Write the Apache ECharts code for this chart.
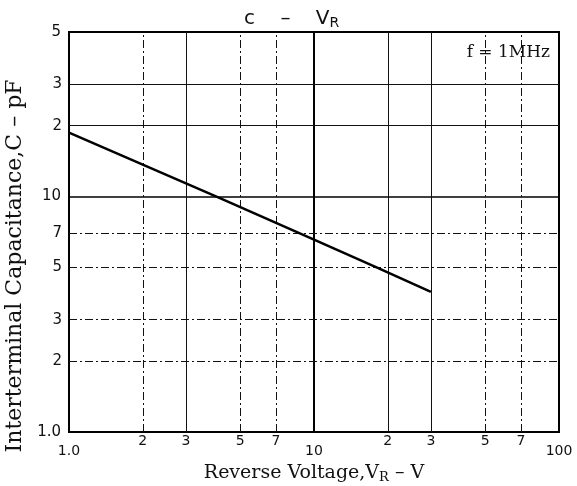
<!DOCTYPE html>
<html><head><meta charset="utf-8">
<script src="https://cdn.jsdelivr.net/npm/echarts@6/dist/echarts.min.js"></script>
<style>html,body{margin:0;padding:0;background:#fff}#c{width:577px;height:486px}</style>
</head><body><div id="c"></div>
<script>
// Data
const voltage = [1, 4, 10, 18, 30];
const capacitance = [18.7, 10, 6.56, 5, 3.94];
const xMajorTicks = [1, 10, 100];
const xMajorLabels = ['1.0', '10', '100'];
const yMajorTicks = [1, 10, 50];
const yMajorLabels = ['1.0', '10', '5'];
const xMinorTicks = [2, 3, 5, 7, 20, 30, 50, 70];
const xMinorLabels = ['2', '3', '5', '7', '2', '3', '5', '7'];
const yMinorTicks = [2, 3, 5, 7, 20, 30];
const yMinorLabels = ['2', '3', '5', '7', '2', '3'];

const SERIF = '"DejaVu Serif", "Liberation Serif", serif';
const SANS = '"DejaVu Sans", "Liberation Sans", sans-serif';
const dashDot = [8, 3, 2, 3];
function xLineType(v) { return (v === 3 || v === 20 || v === 30) ? 'solid' : dashDot; }
function yLineType(v) { return (v === 20 || v === 30) ? 'solid' : dashDot; }
function lookup(ticks, labels, v) {
  for (let i = 0; i < ticks.length; i++) {
    if (Math.abs(Math.log10(v) - Math.log10(ticks[i])) < 1e-6) return labels[i];
  }
  return '';
}

const markData = [];
xMinorTicks.forEach((v, i) => {
  markData.push({
    xAxis: v,
    lineStyle: { color: '#111', width: 1, type: xLineType(v) },
    label: { show: true, position: 'start', formatter: xMinorLabels[i], distance: 2,
      color: '#111', fontFamily: SANS, fontSize: 14 }
  });
});
yMinorTicks.forEach((v, i) => {
  markData.push({
    yAxis: v,
    lineStyle: { color: '#111', width: 1, type: yLineType(v) },
    label: { show: true, position: 'start', formatter: yMinorLabels[i], distance: 7,
      color: '#111', fontFamily: SANS, fontSize: 15 }
  });
});

const chart = echarts.init(document.getElementById('c'), null, { renderer: 'canvas' });
chart.setOption({
  animation: false,
  backgroundColor: '#fff',
  title: [{
    text: '{a|c}{a|    –    }{a|V}{s|R}',
    left: 239, top: 3,
    textStyle: { fontWeight: 'normal', rich: {
      a: { fontFamily: SANS, fontSize: 20, color: '#111', fontWeight: 'normal' },
      s: { fontFamily: SANS, fontSize: 14, color: '#111', fontWeight: 'normal', padding: [8, 0, 0, 0] }
    } }
  }, {
    text: 'f = 1MHz', right: 22, top: 39,
    textStyle: { fontFamily: SERIF, fontSize: 17, fontWeight: 'normal', color: '#111' }
  }],
  grid: { left: 69, right: 18, top: 32, bottom: 54, show: true, borderColor: '#000', borderWidth: 2,
    outerBoundsMode: 'none', containLabel: false },
  xAxis: {
    type: 'log', logBase: 10, min: 1, max: 100,
    axisLine: { show: true, lineStyle: { color: '#000', width: 2 } },
    axisTick: { show: false },
    splitLine: { show: true, lineStyle: { color: '#000', width: 2 } },
    axisLabel: { margin: 12, color: '#111', fontFamily: SANS, fontSize: 14,
      formatter: v => lookup(xMajorTicks, xMajorLabels, v) },
    name: '{a|Reverse Voltage,V}{s|R}{a| – V}',
    nameLocation: 'middle', nameGap: 31,
    nameTextStyle: { rich: {
      a: { fontFamily: SERIF, fontSize: 19, color: '#111' },
      s: { fontFamily: SERIF, fontSize: 13, color: '#111', padding: [8, 0, 0, 0] }
    } }
  },
  yAxis: {
    type: 'log', logBase: 10, min: 1, max: 50,
    axisLine: { show: true, lineStyle: { color: '#000', width: 2 } },
    axisTick: { show: false },
    splitLine: { show: true, lineStyle: { color: '#000', width: 1.5 } },
    axisLabel: { margin: 8, color: '#111', fontFamily: SANS, fontSize: 15,
      formatter: v => lookup(yMajorTicks, yMajorLabels, v) },
    name: 'Interterminal Capacitance,C – pF',
    nameLocation: 'middle', nameGap: 38, nameRotate: 90,
    nameTextStyle: { fontFamily: SERIF, fontSize: 22, color: '#111', padding: [0, 68, 0, 0] }
  },
  series: [{
    type: 'line',
    data: voltage.map((v, i) => [v, capacitance[i]]),
    showSymbol: false, symbol: 'none',
    lineStyle: { color: '#000', width: 2.5 },
    z: 5,
    markLine: { silent: true, symbol: ['none', 'none'], animation: false, data: markData }
  }]
});
</script></body></html>
